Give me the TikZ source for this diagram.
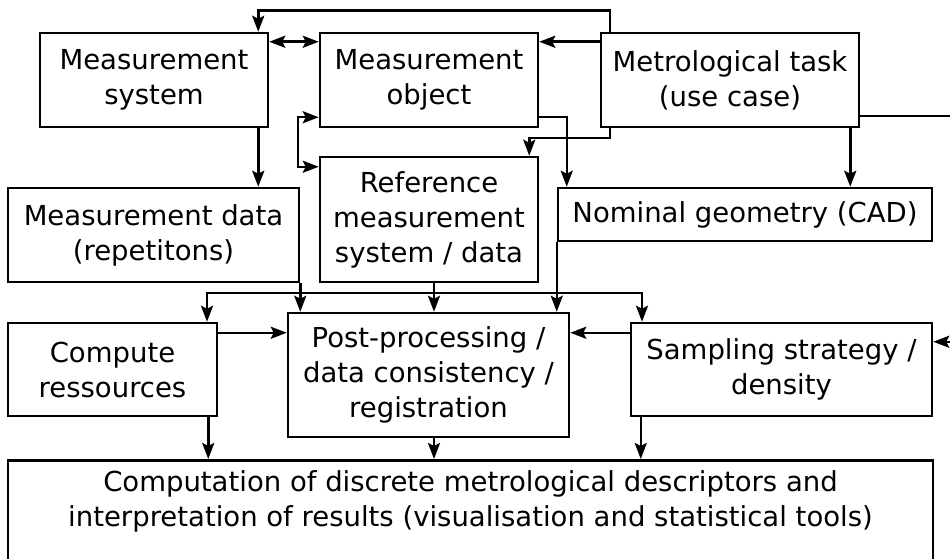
\documentclass[tikz,border=0pt]{standalone}
\usepackage{fontspec}
\setmainfont{DejaVu Sans}
\usetikzlibrary{arrows.meta,calc}
\begin{document}
\begin{tikzpicture}[x=1pt,y=-1pt,
  box/.style={draw, line width=2.5pt, inner sep=0pt, align=center,
    font=\fontsize{27.5}{35}\selectfont},
  tip/.tip={Stealth[length=16pt,width=12pt,inset=3pt]},
  arr/.style={line width=2.5pt, -tip},
  darr/.style={line width=2.5pt, tip-tip}]
\useasboundingbox (0,0) rectangle (950,559);
\fill[white] (0,0) rectangle (950,559);

\node[box, minimum width=228pt, minimum height=94pt] (MS) at (154,80) {Measurement\\system};
\node[box, minimum width=218pt, minimum height=94pt] (MO) at (429,80) {Measurement\\object};
\node[box, minimum width=258pt, minimum height=94pt] (MT) at (730,80) {Metrological task\\(use case)};
\node[box, minimum width=291pt, minimum height=94pt] (MD) at (153.5,235) {Measurement data\\(repetitons)};
\node[box, minimum width=218pt, minimum height=125pt] (RM) at (429,219.5) {Reference\\measurement\\system / data};
\node[box, minimum width=374pt, minimum height=53pt] (NG) at (745,214.5) {Nominal geometry (CAD)};
\node[box, minimum width=209pt, minimum height=93pt] (CR) at (112.5,369.5) {Compute\\ressources};
\node[box, minimum width=281pt, minimum height=124pt] (PP) at (428.5,375) {Post-processing /\\data consistency /\\registration};
\node[box, minimum width=301pt, minimum height=93pt] (SS) at (781.5,369.5) {Sampling strategy /\\density};
\node[box, minimum width=925pt, minimum height=115pt, anchor=north] (CO) at (470.5,459) {};
\node[align=center, inner sep=0pt, font=\fontsize{27.5}{35}\selectfont] (COt) at (470.5,501)
  {Computation of discrete metrological descriptors and\\interpretation of results (visualisation and statistical tools)};

% top loop MT -> MS
\draw[arr] ([xshift=10pt]MT.north west) -- ++(0,-21) -| ([xshift=-11pt]MS.north east);
% MS <-> MO
\draw[darr] ([yshift=-10pt]MS.north east) -- ([yshift=-10pt]MO.north west);
% MT -> MO
\draw[arr] ([yshift=-10pt]MT.north west) -- ([yshift=-10pt]MO.north east);
% MO <-> RM left loop
\draw[darr] ([yshift=11pt]MO.south west) -- ++(-21,0) |- ([yshift=-11pt]RM.north west);
% MT -> RM
\draw[arr] ([xshift=10pt]MT.south west) -- ++(0,10) -| ([xshift=-10pt]RM.north east);
% MO -> NG
\draw[arr] ([yshift=11pt]MO.south east) -| ([xshift=10pt]NG.north west);
% MT -> NG
\draw[arr] ([xshift=-10pt]MT.south east) -- ([xshift=-10pt]MT.south east |- NG.north);
% MT -> SS (right side)
\draw[arr] ([yshift=12pt]MT.south east) -- ++(94,0) |- ([yshift=-20pt]SS.north east);
% MS -> MD
\draw[arr] ([xshift=-11pt]MS.south east) -- ([xshift=-11pt]MS.south east |- MD.north);
% MD -> PP
\draw[arr] (MD.south east) -- (MD.south east |- PP.north);
% RM -> PP
\draw[arr] ([xshift=5pt]RM.south) -- ([xshift=5pt]RM.south |- PP.north);
% NG -> PP
\draw[arr] (NG.south west) -- (NG.south west |- PP.north);
% bus to CR and SS
\coordinate (busL) at (207,293);
\coordinate (busR) at (642,293);
\draw[darr] (busL |- CR.north) -- (busL) -- (busR) -- (busR |- SS.north);
% CR -> PP, SS -> PP
\draw[arr] ([yshift=-11pt]CR.north east) -- ([yshift=-11pt]CR.north east -| PP.west);
\draw[arr] ([yshift=-11pt]SS.north west) -- ([yshift=-11pt]SS.north west -| PP.east);
% to CO
\draw[arr] ([xshift=-10pt]CR.south east) -- ([xshift=-10pt]CR.south east |- CO.north);
\draw[arr] ([xshift=5.5pt]PP.south) -- ([xshift=5.5pt]PP.south |- CO.north);
\draw[arr] ([xshift=11pt]SS.south west) -- ([xshift=11pt]SS.south west |- CO.north);
\end{tikzpicture}
\end{document}
